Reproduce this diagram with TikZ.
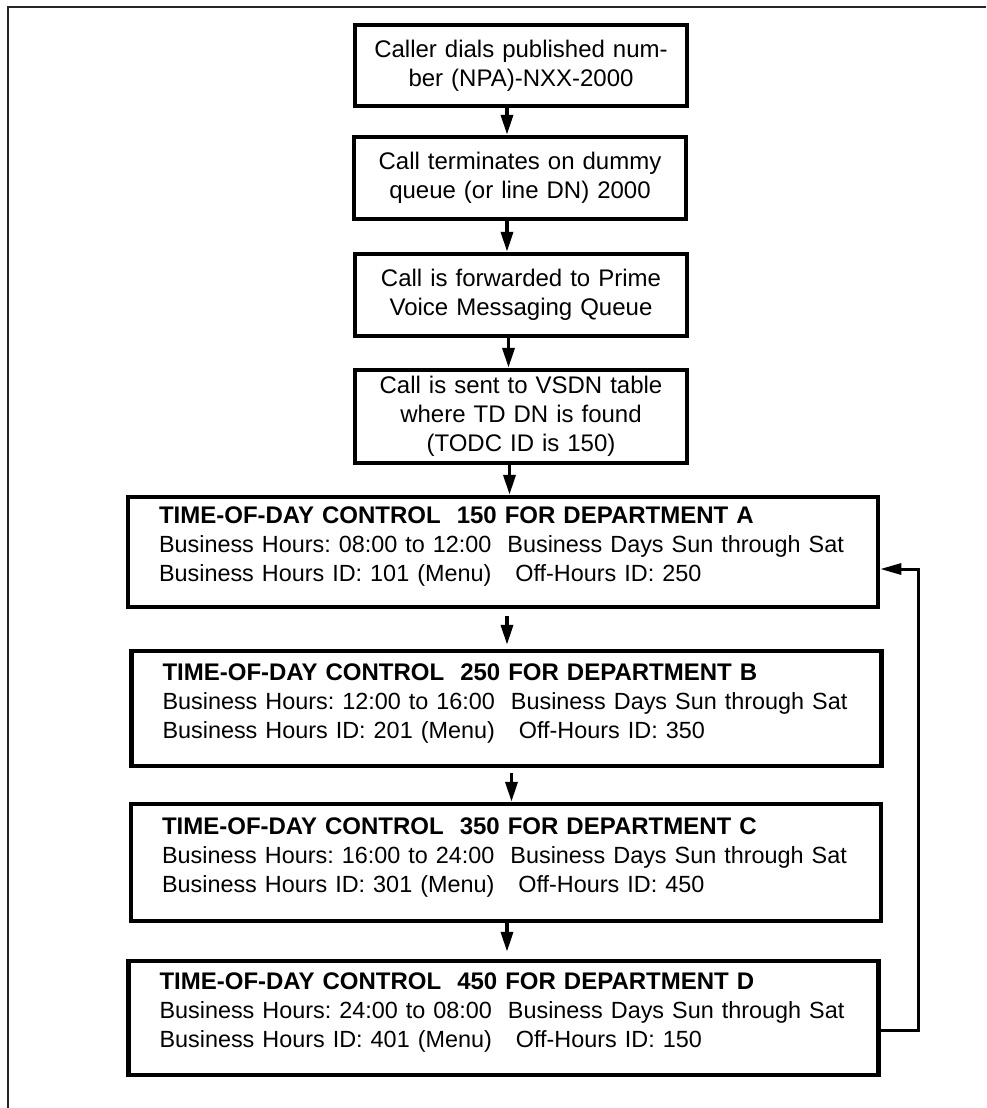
\documentclass[tikz,border=0pt]{standalone}
\usepackage{fontspec}
\setmainfont{Liberation Sans}
\usetikzlibrary{arrows.meta}

\begin{document}
\begin{tikzpicture}[x=1pt, y=1pt,
  every node/.style={font=\fontsize{24}{29}\selectfont\frenchspacing, inner sep=4pt},
  smallbox/.style={draw, line width=4.5pt, minimum width=332pt, text width=300pt, align=center},
  todbox/.style={draw, line width=4.5pt, minimum width=750pt, text width=688pt, inner xsep=31pt, align=left},
  arr/.style={line width=3.5pt, -{Triangle[length=20pt,width=12pt]}},
  backarr/.style={line width=3pt, -{Triangle[length=21pt,width=11pt]}}]
\useasboundingbox (0,0) rectangle (986,-1108);
% page frame (top and left only)
\draw[line width=2pt, black!85] (8,-1108) -- (8,-7) -- (986,-7);
% call path
\node[smallbox, minimum height=81pt] (dial) at (521,-65.5) {Caller dials published num-\\ber (NPA)-NXX-2000};
\node[smallbox, minimum height=82pt] (dummy) at (520,-178) {Call terminates on dummy\hspace*{6pt}\\queue (or line DN) 2000\hspace*{6pt}};
\node[smallbox, minimum height=82pt] (prime) at (521,-295) {Call is forwarded to Prime\\Voice Messaging Queue};
\node[smallbox, minimum height=93pt] (vsdn) at (521,-416.5) {Call is sent to VSDN table\hspace*{8pt}\\where TD DN is found\hspace*{8pt}\\(TODC ID is 150)\hspace*{8pt}};
% time-of-day controls
\foreach \nm/\px/\py/\boxh/\todc/\dept/\hrs/\bid/\off in {tA/503/552/110/150/A/08:00 to 12:00/101/250, tB/506.5/708.5/115/250/B/12:00 to 16:00/201/350, tC/506/862.5/117/350/C/16:00 to 24:00/301/450, tD/503.5/1018/114/450/D/24:00 to 08:00/401/150}
  \node[todbox, minimum height=\boxh pt] (\nm) at (\px,-\py) {\mbox{\bfseries TIME-OF-DAY CONTROL\ \ \todc\ FOR DEPARTMENT \dept}\\\fontsize{23.4}{29}\selectfont\mbox{Business Hours: \hrs\ \ Business Days Sun through Sat}\\\mbox{Business Hours ID: \bid\ (Menu)\ \ \ Off-Hours ID: \off}\endgraf\kern10pt};
% arrows
\draw[arr] ([xshift=-14pt]dial.south) -- ([xshift=-13pt]dummy.north);
\draw[arr] ([xshift=-13pt]dummy.south) -- ([xshift=-14pt]prime.north);
\draw[arr] ([xshift=-12.5pt]prime.south) -- ([xshift=-12.5pt]vsdn.north);
\draw[arr] ([xshift=-11.5pt]vsdn.south) -- ([xshift=6.5pt]tA.north);
\draw[arr] ([xshift=4pt,yshift=-7pt]tA.south) -- ([xshift=0.5pt,yshift=4pt]tB.north);
\draw[arr] ([xshift=5pt,yshift=-5pt]tB.south) -- ([xshift=5.5pt]tC.north);
\draw[arr] ([xshift=1pt]tC.south) -- ([xshift=3.5pt,yshift=7pt]tD.north);
% back to department A
\coordinate (loop) at (918,-569);
\draw[backarr] ([yshift=-12pt]tD.east) -| (loop) -- ([yshift=-17pt]tA.east);
\end{tikzpicture}
\end{document}
